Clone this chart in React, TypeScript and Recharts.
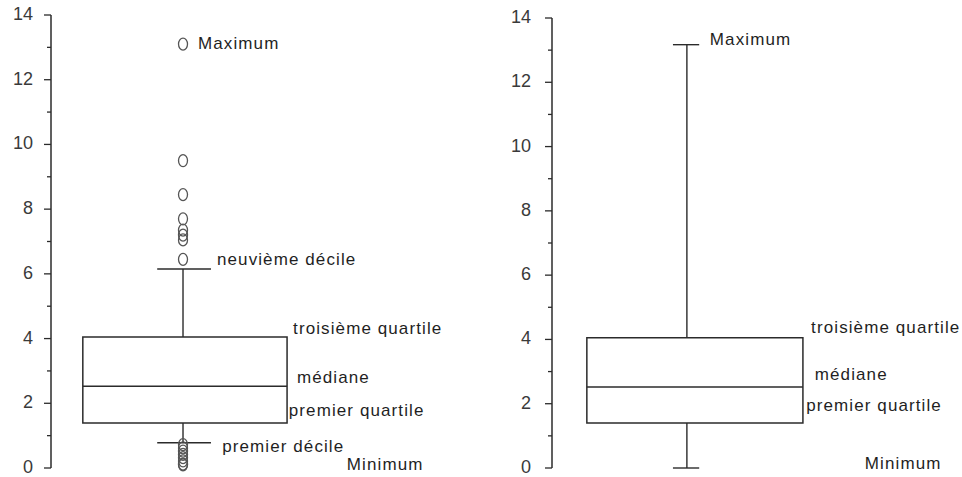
import React from "react";
import {
  ComposedChart,
  XAxis,
  YAxis,
  Scatter,
  ReferenceArea,
  ReferenceLine,
} from "recharts";

// y scale ticks (even = labelled, odd = minor)
const yTicks = [0, 1, 2, 3, 4, 5, 6, 7, 8, 9, 10, 11, 12, 13, 14];

// left panel: box drawn on deciles, outliers beyond
const leftMin = 0.1;
const leftD1 = 0.78;
const leftQ1 = 1.39;
const leftMedian = 2.53;
const leftQ3 = 4.05;
const leftD9 = 6.15;
const leftHigh = [13.1, 9.5, 8.45, 7.7, 7.35, 7.2, 7.05, 6.45];
const leftLow = [0.72, 0.62, 0.52, 0.42, 0.32, 0.22, 0.12];

// right panel: whiskers go to min / max
const rightMin = 0;
const rightQ1 = 1.4;
const rightMedian = 2.52;
const rightQ3 = 4.05;
const rightMax = 13.17;

// annotation texts and where they sit (y in data units)
const leftLabels = ["Maximum", "neuvième décile", "troisième quartile", "médiane", "premier quartile", "premier décile", "Minimum"];
const leftLabelY = [13.13, 6.46, 4.33, 2.81, 1.79, 0.68, 0.12];
const rightLabels = ["Maximum", "troisième quartile", "médiane", "premier quartile", "Minimum"];
const rightLabelY = [13.35, 4.39, 2.92, 1.96, 0.16];

// horizontal layout, in % of plot width
const leftLabelX = [34.2, 38.6, 56.3, 57.2, 55.3, 39.8, 68.8];
const rightLabelX = [38.5, 63.2, 64.1, 62.0, 76.3];

const INK = "#2b2b2b";
const FONT = "'Liberation Sans', Arial, sans-serif";

function AxisTick(props: any) {
  const { x, y, payload, gap } = props;
  const v = payload.value;
  const major = v % 2 === 0;
  return (
    <g>
      <line x1={x - (major ? 7 : 4)} x2={x} y1={y} y2={y} stroke={INK} strokeWidth={1.3} />
      {major && (
        <text x={x - gap} y={y + 5} textAnchor="end" fontSize={18} fill="#3a3a3a" fontFamily={FONT}>
          {v}
        </text>
      )}
    </g>
  );
}

function Ring(props: any) {
  const { cx, cy } = props;
  return <ellipse cx={cx} cy={cy} rx={4.5} ry={6} fill="none" stroke="#555" strokeWidth={1.3} />;
}

function Note(props: any) {
  const { cx, cy, payload } = props;
  return (
    <text
      x={cx}
      y={cy}
      dy="0.35em"
      fontSize={17}
      letterSpacing={1.1}
      fill="#1f1f1f"
      fontFamily={FONT}
    >
      {payload.text}
    </text>
  );
}

interface PanelProps {
  top: number;
  axisW: number;
  gap: number;
  box: [number, number];
  wx: number;
  cap: [number, number];
  q1: number;
  median: number;
  q3: number;
  lowEnd: number;
  highEnd: number;
  outliers: number[];
  labels: string[];
  labelX: number[];
  labelY: number[];
}

function Panel(p: PanelProps) {
  const rings = p.outliers.map((v) => ({ x: p.wx, y: v }));
  const notes = p.labels.map((t, i) => ({ x: p.labelX[i], y: p.labelY[i], text: t }));
  const line = { stroke: INK, strokeWidth: 1.4 };
  return (
    <ComposedChart width={481} height={477} margin={{ top: p.top, right: 0, bottom: 9, left: 0 }}>
      <XAxis type="number" dataKey="x" domain={[0, 100]} hide />
      <YAxis
        type="number"
        dataKey="y"
        domain={[0, 14]}
        ticks={yTicks}
        interval={0}
        width={p.axisW}
        tickSize={0}
        tickMargin={0}
        tickLine={false}
        axisLine={{ stroke: INK, strokeWidth: 1.5 }}
        tick={<AxisTick gap={p.gap} />}
      />
      <ReferenceLine segment={[{ x: p.wx, y: p.q3 }, { x: p.wx, y: p.highEnd }]} {...line} />
      <ReferenceLine segment={[{ x: p.wx, y: p.q1 }, { x: p.wx, y: p.lowEnd }]} {...line} />
      <ReferenceLine segment={[{ x: p.cap[0], y: p.highEnd }, { x: p.cap[1], y: p.highEnd }]} {...line} />
      <ReferenceLine
        segment={[{ x: p.cap[0], y: p.lowEnd }, { x: p.cap[1], y: p.lowEnd }]}
        {...line}
        ifOverflow="visible"
      />
      <ReferenceArea
        x1={p.box[0]}
        x2={p.box[1]}
        y1={p.q1}
        y2={p.q3}
        fill="#fff"
        fillOpacity={1}
        stroke={INK}
        strokeWidth={1.5}
      />
      <ReferenceLine segment={[{ x: p.box[0], y: p.median }, { x: p.box[1], y: p.median }]} stroke={INK} strokeWidth={1.5} />
      {rings.length > 0 && (
        <Scatter data={rings} shape={<Ring />} isAnimationActive={false} />
      )}
      <Scatter data={notes} shape={<Note />} isAnimationActive={false} />
    </ComposedChart>
  );
}

export default function App() {
  return (
    <div
      style={{
        position: "fixed",
        left: 0,
        top: 0,
        width: 962,
        height: 477,
        background: "#fff",
        display: "flex",
        fontFamily: FONT,
      }}
    >
      <Panel
        top={15}
        axisW={51}
        gap={18}
        box={[7.4, 54.9]}
        wx={30.7}
        cap={[24.7, 37.2]}
        q1={leftQ1}
        median={leftMedian}
        q3={leftQ3}
        lowEnd={leftD1}
        highEnd={leftD9}
        outliers={[...leftHigh, ...leftLow, leftMin]}
        labels={leftLabels}
        labelX={leftLabelX}
        labelY={leftLabelY}
      />
      <Panel
        top={18}
        axisW={71}
        gap={21}
        box={[8.5, 61.2]}
        wx={32.9}
        cap={[29.5, 35.9]}
        q1={rightQ1}
        median={rightMedian}
        q3={rightQ3}
        lowEnd={rightMin}
        highEnd={rightMax}
        outliers={[]}
        labels={rightLabels}
        labelX={rightLabelX}
        labelY={rightLabelY}
      />
    </div>
  );
}
